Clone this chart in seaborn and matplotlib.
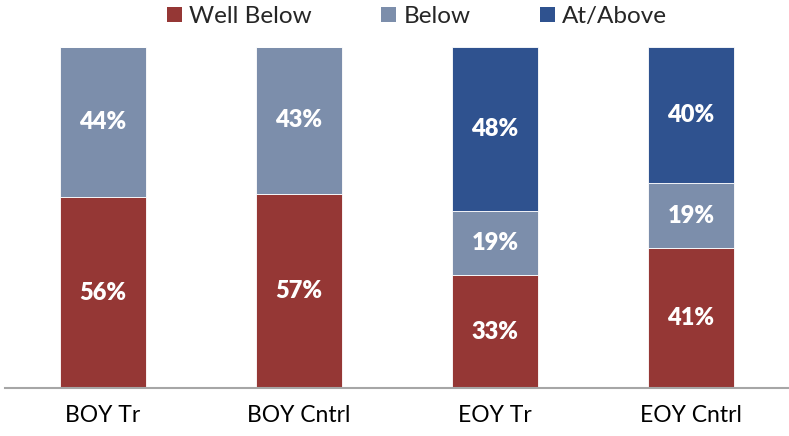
import numpy as np
import pandas as pd
import matplotlib
matplotlib.use("Agg")
import matplotlib.pyplot as plt
import seaborn as sns
from matplotlib.patches import Patch

# Share of students in each benchmark band (percent)
groups = ["BOY Tr", "BOY Cntrl", "EOY Tr", "EOY Cntrl"]
well_below = [56, 57, 33, 41]
below = [44, 43, 19, 19]
at_above = [0, 0, 48, 40]

series_names = ["Well Below", "Below", "At/Above"]
series_colors = ["#953735", "#7C8EAB", "#2F528F"]

sns.set_theme(style="white")
plt.rcParams["font.family"] = ["Lato", "DejaVu Sans"]

fig = plt.figure(figsize=(7.89, 4.36), dpi=100)
ax = fig.add_axes([5 / 789, 1 - 388 / 436, 784 / 789, (388 - 47) / 436])

df = pd.DataFrame({"group": groups, "Well Below": well_below,
                   "Below": below, "At/Above": at_above})

bottom = np.zeros(len(groups))
for name, color in zip(series_names, series_colors):
    vals = df[name].to_numpy(dtype=float)
    sns.barplot(data=df, x="group", y=name, order=groups, color=color,
                width=0.434, bottom=bottom, ax=ax, saturation=1,
                edgecolor="white", linewidth=0.6)
    for i, v in enumerate(vals):
        if v > 0:
            ax.text(i, bottom[i] + v / 2, f"{v:.0f}%", ha="center", va="center",
                    color="white", fontsize=17, fontweight="heavy")
    bottom = bottom + vals

ax.set_xlim(-0.5, 3.5)
ax.set_ylim(0, 100)
ax.set_xlabel("")
ax.set_ylabel("")
ax.set_yticks([])
ax.tick_params(axis="x", length=0, pad=12, labelsize=16.5, labelcolor="black")
for s in ["left", "right", "top"]:
    ax.spines[s].set_visible(False)
ax.spines["bottom"].set_color("#A6A6A6")
ax.spines["bottom"].set_linewidth(1.5)

handles = [Patch(facecolor=c, edgecolor="none") for c in series_colors]
fig.legend(handles, series_names, loc="center left",
           bbox_to_anchor=(167 / 789, 1 - 16.5 / 436), ncol=3, frameon=False,
           fontsize=17.5, handlelength=0.62, handleheight=0.62,
           handletextpad=0.3, columnspacing=2.85, borderaxespad=0,
           borderpad=0)

fig.savefig("out.png", dpi=100)
